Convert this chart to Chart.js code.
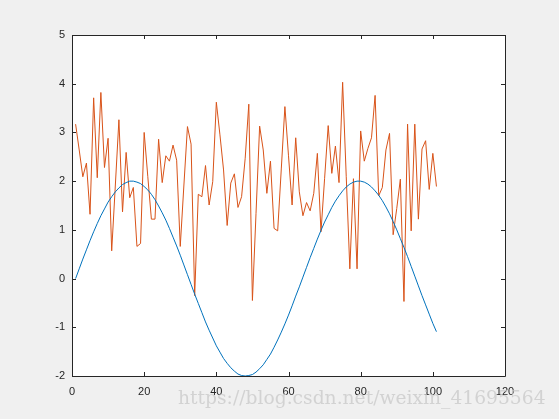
<!DOCTYPE html>
<html>
<head>
<meta charset="utf-8">
<script src="https://cdn.jsdelivr.net/npm/chart.js@4/dist/chart.umd.min.js"></script>
<style>
html,body{margin:0;padding:0;background:#f0f0f0;overflow:hidden}
#wrap{width:559px;height:419px;position:relative}
</style>
</head>
<body>
<div id="wrap"><canvas id="c" width="559" height="419"></canvas></div>
<script>
const xValues = Array.from({length:101},(_,i)=>i+1);
const sineSeries = [0,0.20,0.40,0.59,0.78,0.96,1.13,1.29,1.43,1.57,1.68,1.78,1.86,1.93,1.97,2.00,2.00,1.98,1.95,1.89,1.82,1.73,1.62,1.49,1.35,1.20,1.03,0.85,0.67,0.48,0.28,0.08,-0.12,-0.32,-0.51,-0.70,-0.89,-1.06,-1.22,-1.38,-1.51,-1.64,-1.74,-1.83,-1.90,-1.96,-1.99,-2.00,-1.99,-1.97,-1.92,-1.85,-1.77,-1.66,-1.55,-1.41,-1.26,-1.10,-0.93,-0.75,-0.56,-0.36,-0.17,0.03,0.23,0.43,0.62,0.81,0.99,1.16,1.31,1.46,1.59,1.70,1.80,1.88,1.94,1.98,2.00,2.00,1.98,1.94,1.88,1.80,1.71,1.60,1.47,1.33,1.17,1.00,0.82,0.64,0.45,0.25,0.05,-0.15,-0.35,-0.54,-0.73,-0.92,-1.09];
const noiseSeries = [3.17,2.64,2.09,2.37,1.32,3.71,2.07,3.82,2.28,2.88,0.57,1.9,3.26,1.37,2.59,1.66,1.87,0.66,0.72,3.0,2.1,1.22,1.22,2.86,1.97,2.52,2.41,2.74,2.43,0.66,1.9,3.12,2.76,-0.35,1.73,1.68,2.32,1.51,1.99,3.62,2.95,2.23,1.09,1.96,2.15,1.46,1.68,2.47,3.58,-0.45,1.34,3.13,2.64,1.75,2.41,1.03,0.98,2.25,3.53,2.52,1.51,2.89,1.78,1.29,1.56,1.39,1.75,2.57,0.96,2.05,3.14,2.16,2.72,1.97,4.03,2.1,0.20,2.05,0.20,3.03,2.41,2.67,2.89,3.76,1.70,1.87,2.64,2.98,0.90,1.44,2.04,-0.47,3.17,0.98,3.17,1.22,2.66,2.83,1.83,2.57,1.89];
const xTicks = [0,20,40,60,80,100,120];
const yTicks = [-2,-1,0,1,2,3,4,5];
const watermark = "https://blog.csdn.net/weixin_41695564";

const toPts = ys => ys.map((y,i)=>({x:xValues[i],y:y}));

const boxPlugin = {
  id:'box',
  beforeDraw(chart){
    const {ctx, chartArea:a} = chart;
    ctx.save();
    ctx.fillStyle = '#ffffff';
    ctx.fillRect(a.left, a.top, a.right-a.left, a.bottom-a.top);
    ctx.restore();
  },
  afterDraw(chart){
    const {ctx, chartArea:a, scales} = chart;
    ctx.save();
    ctx.strokeStyle = '#262626';
    ctx.lineWidth = 1;
    ctx.beginPath();
    ctx.rect(Math.round(a.left)+0.5, Math.round(a.top)+0.5, Math.round(a.right-a.left), Math.round(a.bottom-a.top));
    ctx.stroke();
    const L = 4;
    ctx.beginPath();
    xTicks.forEach(v=>{
      const px = Math.round(scales.x.getPixelForValue(v))+0.5;
      ctx.moveTo(px, a.bottom); ctx.lineTo(px, a.bottom-L);
      ctx.moveTo(px, a.top); ctx.lineTo(px, a.top+L);
    });
    yTicks.forEach(v=>{
      const py = Math.round(scales.y.getPixelForValue(v))+0.5;
      ctx.moveTo(a.left, py); ctx.lineTo(a.left+L, py);
      ctx.moveTo(a.right, py); ctx.lineTo(a.right-L, py);
    });
    ctx.stroke();
    const fam = '"DejaVu Serif", "Liberation Serif", serif';
    ctx.font = '20px ' + fam;
    const w = ctx.measureText(watermark).width;
    const size = 20 * 368 / w;
    ctx.font = size.toFixed(2) + 'px ' + fam;
    ctx.fillStyle = 'rgba(200,200,200,0.75)';
    ctx.textBaseline = 'middle';
    ctx.textAlign = 'left';
    ctx.fillText(watermark, 178, 399);
    ctx.restore();
  }
};

new Chart(document.getElementById('c'), {
  type:'line',
  data:{
    datasets:[
      {data:toPts(sineSeries), borderColor:'#0072BD', borderWidth:1, pointRadius:0, tension:0, fill:false},
      {data:toPts(noiseSeries), borderColor:'#D95319', borderWidth:1, pointRadius:0, tension:0, fill:false}
    ]
  },
  plugins:[boxPlugin],
  options:{
    responsive:false,
    animation:false,
    events:[],
    layout:{padding:{left:0,right:54,top:35,bottom:0}},
    plugins:{legend:{display:false}, tooltip:{enabled:false}},
    scales:{
      x:{
        type:'linear', min:0, max:120,
        afterBuildTicks(s){ s.ticks = xTicks.map(v=>({value:v})); },
        afterFit(s){ s.height = 43; },
        grid:{display:false, drawTicks:false},
        border:{display:false},
        ticks:{color:'#262626', padding:9, maxRotation:0, font:{family:'"Liberation Sans", Arial, sans-serif', size:11}}
      },
      y:{
        type:'linear', min:-2, max:5,
        afterBuildTicks(s){ s.ticks = yTicks.map(v=>({value:v})); },
        afterFit(s){ s.width = 72; },
        grid:{display:false, drawTicks:false},
        border:{display:false},
        ticks:{color:'#262626', padding:7, font:{family:'"Liberation Sans", Arial, sans-serif', size:11}}
      }
    }
  }
});
</script>
</body>
</html>
